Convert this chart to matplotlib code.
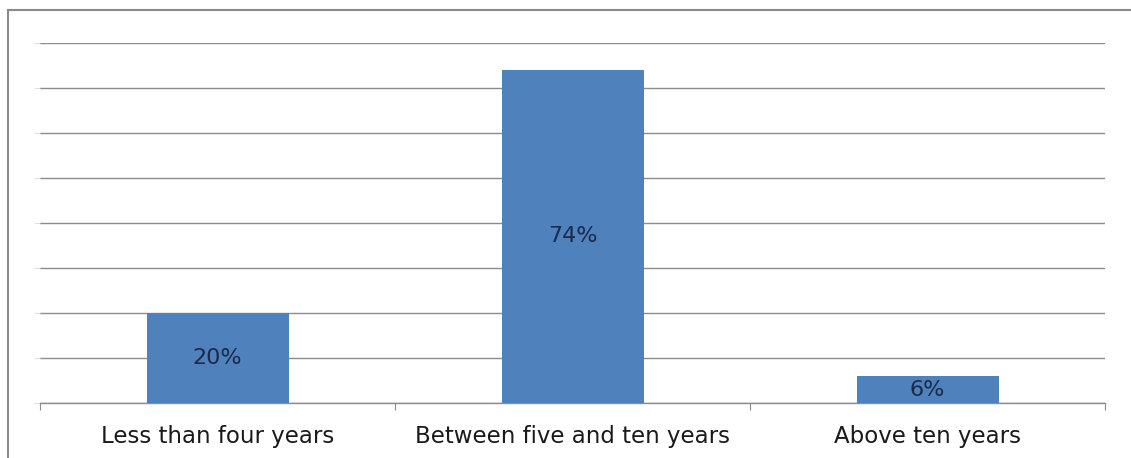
import matplotlib
matplotlib.use("Agg")
import matplotlib.pyplot as plt
from matplotlib.lines import Line2D

categories = ["Less than four years", "Between five and ten years", "Above ten years"]
values = [20, 74, 6]
value_labels = ["20%", "74%", "6%"]
y_ticks = [0, 10, 20, 30, 40, 50, 60, 70, 80]

W, H = 1131, 458
fig = plt.figure(figsize=(W / 100, H / 100), dpi=100)
ax = fig.add_axes([40 / W, (H - 403) / H, (1105 - 40) / W, (403 - 43) / H])

x = list(range(len(categories)))
bars = ax.bar(x, values, width=0.4, color="#4F81BD", zorder=3)
for b, lab in zip(bars, value_labels):
    ax.text(b.get_x() + b.get_width() / 2, b.get_height() / 2, lab,
            ha="center", va="center", fontsize=16, color="#1B2A48",
            family="DejaVu Sans", zorder=4)

ax.set_xlim(-0.5, len(categories) - 0.5)
ax.set_ylim(0, 80)
ax.set_yticks(y_ticks)
ax.set_yticklabels([])
ax.yaxis.grid(True, color="#8C8C8C", linewidth=1.0)
ax.set_axisbelow(True)

ax.set_xticks([i - 0.5 for i in range(len(categories) + 1)])
ax.set_xticklabels([])
ax.set_xticks(x, minor=True)
ax.set_xticklabels(categories, minor=True, fontsize=16.5, color="#1A1A1A", family="DejaVu Sans")
ax.tick_params(axis="x", which="major", length=5, color="#8C8C8C", direction="out")
ax.tick_params(axis="x", which="minor", length=0, pad=16)
ax.tick_params(axis="y", length=4, color="#E0E0E0")

for s in ["top", "right", "left"]:
    ax.spines[s].set_visible(False)
ax.spines["bottom"].set_color("#8C8C8C")
ax.spines["bottom"].set_linewidth(1.0)

# outer frame (left and top edges)
fig.add_artist(Line2D([8 / W, 8 / W], [0, 1 - 10 / H], color="#8A8A8A", linewidth=1.5, transform=fig.transFigure))
fig.add_artist(Line2D([8 / W, 1], [1 - 10 / H, 1 - 10 / H], color="#8A8A8A", linewidth=1.5, transform=fig.transFigure))

fig.savefig("out.png", dpi=100)
